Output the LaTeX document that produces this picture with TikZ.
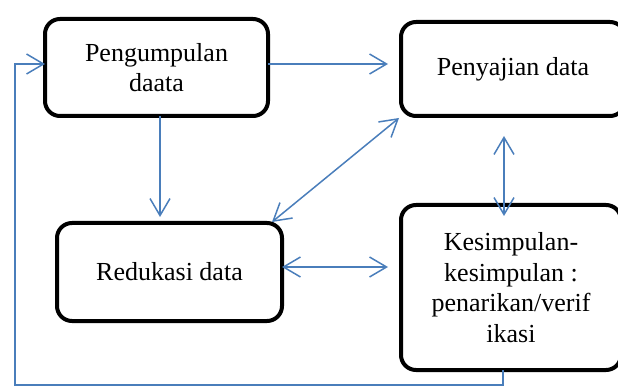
\documentclass[tikz,border=0pt]{standalone}
\usepackage{fontspec}
\setmainfont{Liberation Serif}
\usepackage{tikz}
\usetikzlibrary{
  arrows.meta,
  positioning
}
\definecolor{flowblue}{RGB}{74,126,187}
\tikzset{
  box/.style={
    draw=black,
    line width=4pt,
    rounded corners=15pt,
    align=center,
    inner sep=0pt,
    outer sep=0pt,
    font=\fontsize{26}{30.5}\selectfont
  },
  flow/.style={-{Straight Barb[length=17pt, width=20pt]}, draw=flowblue, line width=1.5pt},
  flowboth/.style={{Straight Barb[length=17pt, width=20pt]}-{Straight Barb[length=17pt, width=20pt]}, draw=flowblue, line width=1.5pt},
}

\begin{document}
\begin{tikzpicture}[x=1pt, y=-1pt]

\clip (0,0) rectangle (618,387);

% the four steps
\node[box, minimum width=223pt, minimum height=97pt] (pd) at (156.5,67.5) {Pengumpulan\\daata};
\node[box, minimum width=224pt, minimum height=94pt] (pj) at (513,69) {Penyajian data};
\node[box, minimum width=225pt, minimum height=98pt] (rd) at (169.5,272) {Redukasi data};
\node[box, minimum width=220pt, minimum height=165pt] (kes) at (511,287.5) {Kesimpulan-\\kesimpulan :\\penarikan/verif\\ikasi};

% one-way arrows
\draw[flow, shorten >=13pt] ([yshift=3.5pt]pd.east) -- ([yshift=3.5pt]pd.east -| pj.west);
\draw[flow] ([xshift=3.5pt]pd.south) -- ([xshift=-9.5pt, yshift=6pt]rd.north);

% two-way arrows
\draw[flowboth] ([xshift=-10pt, yshift=1pt]rd.north east) -- ([xshift=-2pt, yshift=-2pt]pj.south west);
\draw[flowboth] ([xshift=-9pt, yshift=-20pt]pj.south) -- ([xshift=-7pt, yshift=-11pt]kes.north);
\draw[flowboth, shorten >=13pt] ([yshift=5pt]rd.east) -- ([yshift=5pt]rd.east -| kes.west);

% back to the start
\coordinate (back) at (15,385);
\draw[flow] ([xshift=-8pt]kes.south) |- (back) |- ([yshift=3.5pt]pd.west);

\end{tikzpicture}
\end{document}
